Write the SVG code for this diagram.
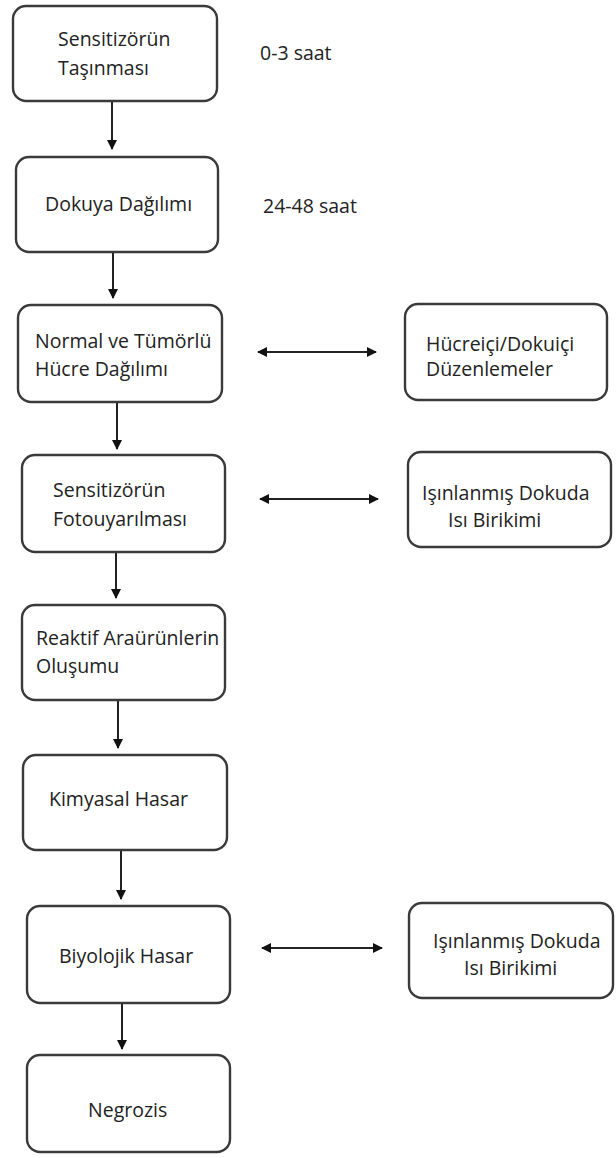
<svg xmlns="http://www.w3.org/2000/svg" width="616" height="1158" viewBox="0 0 616 1158">
<defs>
<marker id="ah" viewBox="0 0 10 10" refX="9" refY="5" markerWidth="5" markerHeight="5" orient="auto-start-reverse" markerUnits="strokeWidth">
<path d="M0,0 L10,5 L0,10 z" fill="#111"/>
</marker>
<style>
.box{fill:#fff;stroke:#3a3a3a;stroke-width:2.4}
.t{font-family:"Open Sans","Noto Sans",sans-serif;font-size:19.5px;fill:#222;dominant-baseline:central}
.c{stroke:#222;stroke-width:2;fill:none}
</style>
</defs>
<rect width="616" height="1158" fill="#fff"/>
<g id="n1"><rect class="box" x="13" y="6" width="204" height="95" rx="13"/><text class="t" x="58" y="38">Sensitizörün</text><text class="t" x="58" y="67">Taşınması</text></g>
<g id="lbl1"><text class="t" x="260" y="52">0-3 saat</text></g>
<g id="n2"><rect class="box" x="16" y="157" width="202" height="95" rx="13"/><text class="t" x="45" y="203">Dokuya Dağılımı</text></g>
<g id="lbl2"><text class="t" x="263" y="205">24-48 saat</text></g>
<g id="n3"><rect class="box" x="18" y="305" width="204" height="97" rx="13"/><text class="t" x="35" y="340">Normal ve Tümörlü</text><text class="t" x="35" y="368">Hücre Dağılımı</text></g>
<g id="r1"><rect class="box" x="405" y="304" width="202" height="96" rx="13"/><text class="t" x="426" y="343">Hücreiçi/Dokuiçi</text><text class="t" x="426" y="368">Düzenlemeler</text></g>
<g id="n4"><rect class="box" x="22" y="455" width="203" height="97" rx="13"/><text class="t" x="53" y="489">Sensitizörün</text><text class="t" x="53" y="518">Fotouyarılması</text></g>
<g id="r2"><rect class="box" x="408" y="452" width="203" height="95" rx="13"/><text class="t" x="422" y="492">Işınlanmış Dokuda</text><text class="t" x="448" y="519">Isı Birikimi</text></g>
<g id="n5"><rect class="box" x="22" y="605" width="203" height="95" rx="13"/><text class="t" x="36" y="637">Reaktif Araürünlerin</text><text class="t" x="36" y="665">Oluşumu</text></g>
<g id="n6"><rect class="box" x="23" y="755" width="204" height="95" rx="13"/><text class="t" x="49" y="798">Kimyasal Hasar</text></g>
<g id="n7"><rect class="box" x="27" y="906" width="203" height="97" rx="13"/><text class="t" x="59" y="955">Biyolojik Hasar</text></g>
<g id="r3"><rect class="box" x="409" y="903" width="204" height="95" rx="13"/><text class="t" x="433" y="940">Işınlanmış Dokuda</text><text class="t" x="464" y="967">Isı Birikimi</text></g>
<g id="n8"><rect class="box" x="27" y="1055" width="203" height="97" rx="13"/><text class="t" x="88" y="1109">Negrozis</text></g>
<g id="connectors">
<line class="c" x1="112" y1="102" x2="112" y2="149" marker-end="url(#ah)"/>
<line class="c" x1="113" y1="253" x2="113" y2="298" marker-end="url(#ah)"/>
<line class="c" x1="117" y1="403" x2="117" y2="449" marker-end="url(#ah)"/>
<line class="c" x1="116" y1="553" x2="116" y2="598" marker-end="url(#ah)"/>
<line class="c" x1="118" y1="701" x2="118" y2="748" marker-end="url(#ah)"/>
<line class="c" x1="121" y1="851" x2="121" y2="899" marker-end="url(#ah)"/>
<line class="c" x1="122" y1="1004" x2="122" y2="1049" marker-end="url(#ah)"/>
<line class="c" x1="258" y1="352" x2="376" y2="352" marker-start="url(#ah)" marker-end="url(#ah)"/>
<line class="c" x1="260" y1="499" x2="378" y2="499" marker-start="url(#ah)" marker-end="url(#ah)"/>
<line class="c" x1="262" y1="948" x2="382" y2="948" marker-start="url(#ah)" marker-end="url(#ah)"/>
</g>
</svg>
